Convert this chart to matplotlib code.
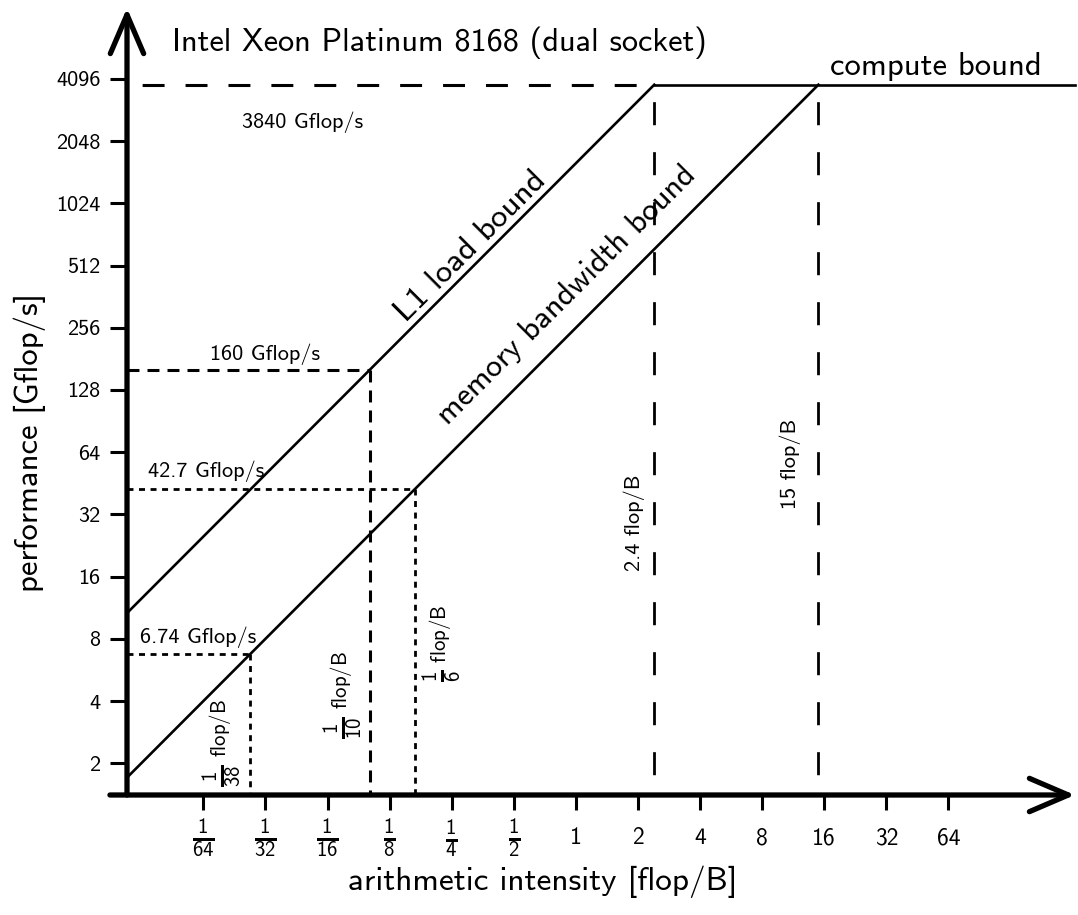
import numpy as np
import matplotlib
matplotlib.use('Agg')
import matplotlib.pyplot as plt

plt.rcParams['font.family'] = ['cmss10', 'DejaVu Sans']
plt.rcParams['mathtext.fontset'] = 'custom'
plt.rcParams['mathtext.rm'] = 'cmss10'
plt.rcParams['mathtext.sf'] = 'cmss10'
plt.rcParams['mathtext.it'] = 'cmss10'
plt.rcParams['mathtext.bf'] = 'cmss10'
plt.rcParams['axes.unicode_minus'] = False
plt.rcParams['lines.scale_dashes'] = False

# machine numbers
peak = 3840.0          # Gflop/s
l1_bw = 1600.0         # GB/s, L1 load
mem_bw = 256.0         # GB/s, main memory
l1_point = (1 / 10, 160.0)
mem_points = [(1 / 6, 42.7), (1 / 38, 6.74)]
ridges = [peak / l1_bw, peak / mem_bw]   # 2.4 and 15 flop/B


def frac(num, den, rule=3):
    return r'$\genfrac{}{}{%g}{0}{%s}{%s}$' % (rule, num, den)


xticks = [2.0 ** k for k in range(-6, 7)]
xticklabels = [frac(1, 64), frac(1, 32), frac(1, 16), frac(1, 8), frac(1, 4), frac(1, 2),
               '1', '2', '4', '8', '16', '32', '64']
yticks = [2 ** k for k in range(1, 13)]
yticklabels = [str(v) for v in yticks]

xlim = (2 ** -7.23, 2 ** 8.04)
ylim = (2 ** 0.49, 2 ** 13.14)

fig = plt.figure(figsize=(10.78, 9.15), dpi=100)
ax = fig.add_axes([127 / 1078, 120 / 915, 948 / 1078, 787 / 915])
ax.set_xscale('log', base=2)
ax.set_yscale('log', base=2)
ax.set_xlim(*xlim)
ax.set_ylim(*ylim)

# roofs
x0 = xlim[0]
ax.plot([x0, ridges[0]], [l1_bw * x0, peak], 'k-', lw=1.9)
ax.plot([x0, ridges[1]], [mem_bw * x0, peak], 'k-', lw=1.9)
ax.plot([ridges[0], xlim[1]], [peak, peak], 'k-', lw=1.9, clip_on=False)
ax.plot([x0, ridges[0]], [peak, peak], 'k', lw=2.2, ls=(20, (15.8, 15.1)))
for r in ridges:
    ax.plot([r, r], [peak, ylim[0]], 'k', lw=2.0, ls=(24, (16.6, 19.4)))

# L1 guide (dashed)
lx, ly = l1_point
ax.plot([x0, lx], [ly, ly], 'k', lw=2.2, ls=(0, (8.6, 5.8)))
ax.plot([lx, lx], [ly, ylim[0]], 'k', lw=2.2, ls=(0, (8.6, 5.8)))
# memory guides (dotted)
for mx, my in mem_points:
    ax.plot([x0, mx], [my, my], 'k', lw=2.0, ls=(0, (4.3, 4.0)))
    ax.plot([mx, mx], [my, ylim[0]], 'k', lw=2.0, ls=(0, (4.3, 4.0)))

# axes as arrows
for s in ax.spines.values():
    s.set_visible(False)
arrow = dict(arrowstyle='->,head_length=2.8,head_width=1.2', lw=3.8, color='k',
             shrinkA=0, shrinkB=0)
ax.annotate('', xy=(1, 0), xytext=(-0.018, 0), xycoords='axes fraction', arrowprops=arrow)
ax.annotate('', xy=(0, 1), xytext=(0, 0), xycoords='axes fraction', arrowprops=arrow)

ax.minorticks_off()
ax.set_xticks(xticks)
ax.set_xticklabels(xticklabels)
ax.set_yticks(yticks)
ax.set_yticklabels(yticklabels)
ax.tick_params(axis='y', direction='out', length=12, width=2.2, pad=7, labelsize=16)
ax.tick_params(axis='x', direction='out', length=11, width=2.2, pad=20, labelsize=17)
for lab in ax.get_xticklabels():
    lab.set_verticalalignment('center')
    if 'genfrac' in lab.get_text():
        lab.set_fontsize(15)


def note(text, xy, dx, dy, **kw):
    return ax.annotate(text, xy=xy, xytext=(dx, dy), textcoords='offset points', **kw)


# value labels
note('3840 Gflop/s', (2 ** -4.4, peak), 0, -31, ha='center', va='baseline', fontsize=16)
note('160 Gflop/s', (2 ** -5.0, l1_point[1]), 0, 7, ha='center', va='baseline', fontsize=16)
note('42.7 Gflop/s', (2 ** -5.95, mem_points[0][1]), 0, 8, ha='center', va='baseline', fontsize=16)
note('6.74 Gflop/s', (2 ** -6.09, mem_points[1][1]), 0, 8, ha='center', va='baseline', fontsize=16)
note('compute bound', (2 ** 5.8, peak), 0, 7, ha='center', va='baseline', fontsize=23.5)

# intensity labels along the vertical guides
note(frac(1, 38) + ' flop/B', (mem_points[1][0], 2 ** 1.33), -20, 0,
     rotation=90, ha='center', va='center', fontsize=15)
note(frac(1, 10) + ' flop/B', (l1_point[0], 2 ** 2.09), -19, 0,
     rotation=90, ha='center', va='center', fontsize=15)
note(frac(1, 6) + ' flop/B', (mem_points[0][0], 2 ** 2.93), 19, 0,
     rotation=90, ha='center', va='center', fontsize=15)
note('2.4 flop/B', (ridges[0], 2 ** 4.86), -14.5, 0,
     rotation=90, ha='center', va='center', fontsize=16)
note('15 flop/B', (ridges[1], 2 ** 5.82), -20, 0,
     rotation=90, ha='center', va='center', fontsize=16)

# roof names
xa = 2 ** -1.69
note('L1 load bound', (xa, l1_bw * xa), 0, 16, rotation=45,
     ha='center', va='center', fontsize=24)
xb = 2 ** -0.145
note('memory bandwidth bound', (xb, mem_bw * xb), 0, 30, rotation=45,
     ha='center', va='center', fontsize=23.3)

fig.text(172 / 1078, 1 - 51 / 915, 'Intel Xeon Platinum 8168 (dual socket)',
         ha='left', va='baseline', fontsize=23.3)
fig.text(30 / 1078, 1 - 443 / 915, 'performance [Gflop/s]', rotation=90,
         ha='center', va='center', fontsize=23.5)
fig.text(543 / 1078, 1 - 890 / 915, 'arithmetic intensity [flop/B]',
         ha='center', va='baseline', fontsize=24)

fig.savefig('out.png', dpi=100)
